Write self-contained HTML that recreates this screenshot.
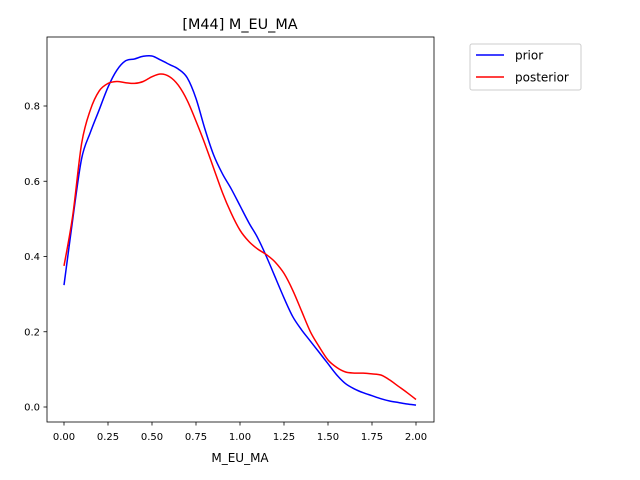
<!DOCTYPE html>
<html><head><meta charset="utf-8"><style>
body{margin:0;background:#fff;}
svg{display:block;font-family:"DejaVu Sans","Liberation Sans",sans-serif;}
</style></head><body>
<svg id="chart" width="640" height="480" xmlns="http://www.w3.org/2000/svg">
<rect width="640" height="480" fill="#fff"/>
<text x="240" y="29" font-size="14.4" text-anchor="middle">[M44] M_EU_MA</text>
<g id="plot"></g>
<rect x="47" y="37" width="387" height="385" fill="none" stroke="#000" stroke-width="0.8"/>
<text x="240" y="462" font-size="12" text-anchor="middle">M_EU_MA</text>
<g>
<rect x="470" y="44" width="111" height="46" fill="#fff" stroke="#ccc" rx="2"/>
<line x1="476" y1="55" x2="504" y2="55" stroke="blue" stroke-width="1.5"/>
<text x="515" y="59.5" font-size="12">prior</text>
<line x1="476" y1="77" x2="504" y2="77" stroke="red" stroke-width="1.5"/>
<text x="515" y="81.5" font-size="12">posterior</text>
</g>
</svg>
<script>
const xValues = [0,0.05,0.1,0.15,0.2,0.25,0.3,0.35,0.4,0.45,0.5,0.55,0.6,0.65,0.7,0.75,0.8,0.85,0.9,0.95,1.0,1.05,1.1,1.15,1.2,1.25,1.3,1.35,1.4,1.45,1.5,1.55,1.6,1.65,1.7,1.75,1.8,1.85,1.9,1.95,2.0];
const priorValues = [0.324,0.5,0.66,0.73,0.79,0.85,0.895,0.92,0.925,0.932,0.933,0.922,0.91,0.898,0.875,0.82,0.74,0.67,0.62,0.58,0.535,0.49,0.45,0.40,0.345,0.29,0.24,0.205,0.175,0.145,0.115,0.085,0.062,0.048,0.038,0.03,0.022,0.016,0.012,0.008,0.005];
const posteriorValues = [0.375,0.51,0.7,0.79,0.84,0.86,0.865,0.862,0.86,0.865,0.878,0.885,0.878,0.855,0.815,0.76,0.70,0.635,0.57,0.515,0.47,0.44,0.42,0.405,0.385,0.355,0.31,0.255,0.2,0.16,0.125,0.105,0.093,0.09,0.09,0.088,0.085,0.072,0.055,0.038,0.02];
const xTicks = [0,0.25,0.5,0.75,1.0,1.25,1.5,1.75,2.0];
const xTickLabels = ["0.00","0.25","0.50","0.75","1.00","1.25","1.50","1.75","2.00"];
const yTicks = [0,0.2,0.4,0.6,0.8];
const yTickLabels = ["0.0","0.2","0.4","0.6","0.8"];

const NS = "http://www.w3.org/2000/svg";
const plot = document.getElementById('plot');
function xs(v){return 64 + v*176;}
function ys(v){return 407 - v*376.25;}
function mk(tag, attrs){const e=document.createElementNS(NS,tag);for(const k in attrs)e.setAttribute(k,attrs[k]);plot.appendChild(e);return e;}

xTicks.forEach((t,i)=>{
  const l=mk('line',{x1:xs(t),x2:xs(t),y1:422,y2:425.5,stroke:'#000','stroke-width':0.8});
  
  
  const tx=mk('text',{x:xs(t),y:440,'font-size':10,'text-anchor':'middle'});
  tx.textContent=xTickLabels[i];
  
  
});
yTicks.forEach((t,i)=>{
  const l=mk('line',{x1:43.5,x2:47,y1:ys(t),y2:ys(t),stroke:'#000','stroke-width':0.8});
  
  
  const tx=mk('text',{x:40,y:ys(t)+3.5,'font-size':10,'text-anchor':'end'});
  tx.textContent=yTickLabels[i];
  
  
});
function path(vals){
  const P=xValues.map((x,i)=>[xs(x),ys(vals[i])]);
  let d='M'+P[0][0].toFixed(1)+','+P[0][1].toFixed(1);
  for(let i=0;i<P.length-1;i++){
    const p0=P[Math.max(0,i-1)],p1=P[i],p2=P[i+1],p3=P[Math.min(P.length-1,i+2)];
    const c1x=p1[0]+(p2[0]-p0[0])/6,c1y=p1[1]+(p2[1]-p0[1])/6;
    const c2x=p2[0]-(p3[0]-p1[0])/6,c2y=p2[1]-(p3[1]-p1[1])/6;
    d+=' C'+c1x.toFixed(1)+','+c1y.toFixed(1)+' '+c2x.toFixed(1)+','+c2y.toFixed(1)+' '+p2[0].toFixed(1)+','+p2[1].toFixed(1);
  }
  return d;
}
const p1=mk('path',{d:path(priorValues),fill:'none',stroke:'blue','stroke-width':1.5,'stroke-linejoin':'round'});


const p2=mk('path',{d:path(posteriorValues),fill:'none',stroke:'red','stroke-width':1.5,'stroke-linejoin':'round'});


</script>
</body></html>
